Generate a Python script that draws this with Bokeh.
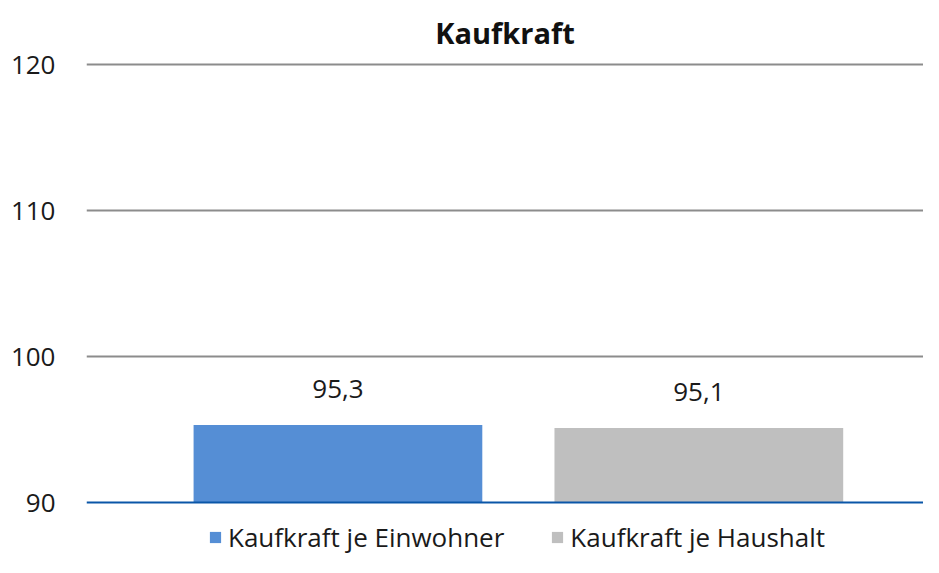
from bokeh.plotting import figure
from bokeh.models import ColumnDataSource, Range1d, FixedTicker, LabelSet, Legend, LegendItem, Span
from bokeh.core.properties import value
from bokeh.embed import file_html
from bokeh.resources import INLINE

title_text = "Kaufkraft"
series = ["Kaufkraft je Einwohner", "Kaufkraft je Haushalt"]
values = [95.3, 95.1]
colors = ["#558ED5", "#BFBFBF"]
y_ticks = [90, 100, 110, 120]
y_base = 90
# visible range: a little above the top tick and room below the baseline for the legend
y_view = (86.233, 120.274)

FONT = "Open Sans"

src = ColumnDataSource(dict(
    x=list(range(len(series))),
    top=values,
    bottom=[y_base] * len(values),
    name=series,
    color=colors,
    label=[f"{v:.1f}".replace(".", ",") for v in values],
))

x_start = -0.6967
p = figure(width=923, height=557, output_backend="svg", toolbar_location=None,
           x_range=Range1d(x_start, 1.6225), y_range=Range1d(*y_view),
           min_border_left=86, min_border_right=0, min_border_top=60, min_border_bottom=0,
           title=title_text)
p.outline_line_color = None
p.background_fill_color = "white"
p.border_fill_color = "white"

p.title.align = "center"
p.title.text_font = FONT
p.title.text_font_style = "bold"
p.title.text_font_size = "29px"
p.title.text_color = "#111111"
p.title.standoff = 18

r = p.vbar(x="x", top="top", bottom="bottom", width=0.8, color="color", line_color=None,
           source=src)

# y axis
p.yaxis.ticker = FixedTicker(ticks=y_ticks)
p.yaxis.axis_line_color = None
p.yaxis.major_tick_line_color = None
p.yaxis.minor_tick_line_color = None
p.yaxis.major_label_standoff = 25
p.yaxis.major_label_text_font = FONT
p.yaxis.major_label_text_font_size = "26px"
p.yaxis.major_label_text_color = "#1a1a1a"

p.xaxis.visible = False
p.xgrid.grid_line_color = None
p.ygrid.ticker = FixedTicker(ticks=y_ticks[1:])
p.ygrid.grid_line_color = "#8C8C8C"
p.ygrid.grid_line_width = 2

# category axis line at the base value
p.add_layout(Span(location=y_base, dimension="width", line_color="#0A56A8", line_width=2))

labels = LabelSet(x="x", y="top", text="label", source=src, y_offset=27,
                  text_align="center", text_baseline="alphabetic",
                  text_font=value(FONT), text_font_size="26px", text_color="#1a1a1a")
p.add_layout(labels)

items = [LegendItem(label=s, renderers=[r], index=i) for i, s in enumerate(series)]
lg = Legend(items=items, orientation="horizontal", location=(122, 2))
lg.padding = 0
lg.margin = 0
lg.spacing = 46
lg.border_line_color = None
lg.background_fill_alpha = 0
lg.glyph_width = 14
lg.glyph_height = 14
lg.label_standoff = 6
lg.label_text_font = FONT
lg.label_text_font_size = "26px"
lg.label_text_color = "#1a1a1a"
p.add_layout(lg)

open("out.html", "w").write(file_html(p, INLINE))
